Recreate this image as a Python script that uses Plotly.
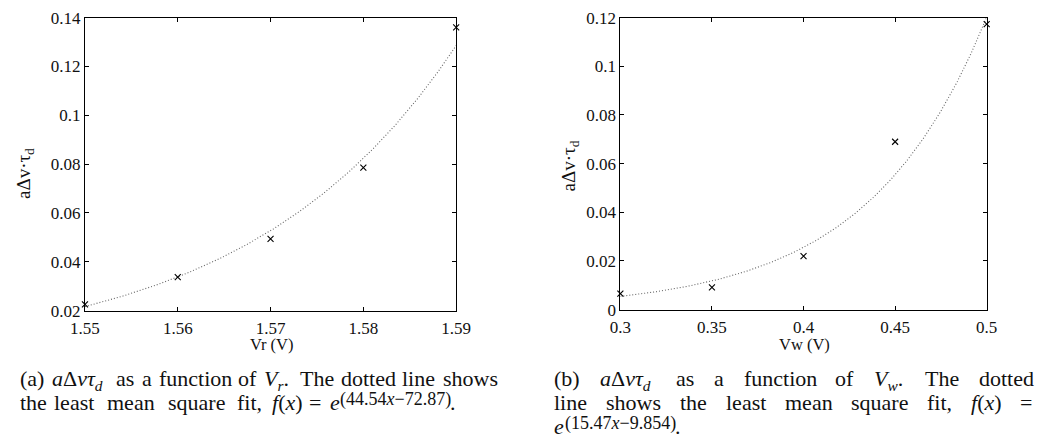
import numpy as np
import plotly.graph_objects as go

# ---- data ----
vr = [1.55, 1.56, 1.57, 1.58, 1.59]
vr_vals = [0.0226, 0.0337, 0.0494, 0.0786, 0.1360]
vw = [0.30, 0.35, 0.40, 0.45, 0.50]
vw_vals = [0.0066, 0.0092, 0.0220, 0.0690, 0.1173]
# least-mean-square fit coefficients (from caption): f(x) = exp(a*x + b)
fit_r = (44.54, -72.87)
fit_w = (15.47, -9.854)
xticks_r = [1.55, 1.56, 1.57, 1.58, 1.59]
yticks_r = [0.02, 0.04, 0.06, 0.08, 0.1, 0.12, 0.14]
xticks_w = [0.3, 0.35, 0.4, 0.45, 0.5]
yticks_w = [0, 0.02, 0.04, 0.06, 0.08, 0.1, 0.12]

W, H = 1060, 447
FONT = "Liberation Serif, Times New Roman, serif"
CAP = 22  # caption font size
SUP = 18  # superscript font size

def px(x):
    return x / W

def py(y):
    return 1 - y / H

xr_fit = np.linspace(vr[0], vr[-1], 200)
yr_fit = np.exp(fit_r[0] * xr_fit + fit_r[1])
xw_fit = np.linspace(vw[0], vw[-1], 200)
yw_fit = np.exp(fit_w[0] * xw_fit + fit_w[1])

fig = go.Figure()
line_style = dict(color="#666666", width=1.1, dash="1px,2px")
mk = dict(symbol="x-thin", size=6, line=dict(color="black", width=1.1), color="black")

fig.add_trace(go.Scatter(x=xr_fit, y=yr_fit, mode="lines", line=line_style, xaxis="x", yaxis="y", showlegend=False))
fig.add_trace(go.Scatter(x=vr, y=vr_vals, mode="markers", marker=mk, xaxis="x", yaxis="y", showlegend=False, cliponaxis=False))
fig.add_trace(go.Scatter(x=xw_fit, y=yw_fit, mode="lines", line=line_style, xaxis="x2", yaxis="y2", showlegend=False))
fig.add_trace(go.Scatter(x=vw, y=vw_vals, mode="markers", marker=mk, xaxis="x2", yaxis="y2", showlegend=False, cliponaxis=False))

ax_common = dict(showline=True, linecolor="black", linewidth=1, mirror="allticks", ticks="inside",
                 ticklen=4, tickcolor="black", showgrid=False, zeroline=False,
                 ticklabeloverflow="allow",
                 tickfont=dict(family=FONT, size=17, color="#111111"))

fig.update_layout(
    width=W, height=H, margin=dict(l=0, r=0, t=0, b=0),
    paper_bgcolor="white", plot_bgcolor="white",
    xaxis=dict(domain=[px(72), px(454)], range=[1.55, 1.59], tickvals=xticks_r,
               ticktext=[f"{v:g}" for v in xticks_r], anchor="y", ticklabelstandoff=2, **ax_common),
    yaxis=dict(domain=[py(315), py(9)], range=[0.02, 0.14], tickvals=yticks_r,
               ticktext=[f"{v:g}" for v in yticks_r], anchor="x", **ax_common),
    xaxis2=dict(domain=[px(623), px(1000)], range=[0.3, 0.5], tickvals=xticks_w,
                ticktext=[f"{v:g}" for v in xticks_w], anchor="y2", ticklabelstandoff=2, **ax_common),
    yaxis2=dict(domain=[py(314), py(9)], range=[0, 0.12], tickvals=yticks_w,
                ticktext=[f"{v:g}" for v in yticks_w], anchor="x2", **ax_common),
)

anns = []
def ann(text, x, y, xanchor="left", size=CAP, textangle=0, yanchor="middle"):
    anns.append(dict(text=text, x=px(x), y=py(y), xref="paper", yref="paper",
                     xanchor=xanchor, yanchor=yanchor, showarrow=False, textangle=textangle,
                     font=dict(family=FONT, size=size, color="#111111")))

# axis titles
ann("Vr (V)", 264, 350, xanchor="center", size=16.5)
ann("Vw (V)", 812, 350, xanchor="center", size=16.5)
ann("aΔv·τ<sub>d</sub>", 24, 172, xanchor="right", size=19, textangle=-90)
ann("aΔv·τ<sub>d</sub>", 586, 164, xanchor="right", size=19, textangle=-90)

# ---- caption layout helpers (Times metrics, per 1000 em) ----
ROM = {"(": 333, ")": 333, "a": 444, "b": 500, "c": 444, "d": 500, "e": 444, "f": 333, "h": 500,
       "i": 278, "l": 278, "m": 778, "n": 500, "o": 500, "q": 500, "r": 333, "s": 389, "t": 278,
       "u": 500, "w": 722, "T": 611, ",": 250, ".": 250, "=": 564, "Δ": 612}
ITA = {"a": 500, "e": 444, "f": 278, "x": 444, "v": 444, "V": 611, "r": 389, "w": 667, "d": 500, "τ": 430}

def wid(parts, size=CAP):
    tot = 0
    for s, it, sc in parts:
        tab = ITA if it else ROM
        tot += sum(tab.get(c, 500) for c in s) * sc
    return tot / 1000 * size

def word(text):
    return (text, wid([(text, 0, 1)]))

AD = ("<i>a</i>Δ<i>vτ<sub>d</sub></i>",
      wid([("a", 1, 1), ("Δ", 0, 1), ("vτ", 1, 1), ("d", 1, 0.7)]) + 6)
def V(sub):
    return ("<i>V<sub>%s</sub></i>." % sub, wid([("V", 1, 1), (sub, 1, 0.7), (".", 0, 1)]) + 3)
FX = ("<i>f</i>(<i>x</i>)", wid([("f", 1, 1), ("(", 0, 1), ("x", 1, 1), (")", 0, 1)]))

C1, C2, C3 = 386, 411, 436   # caption line centres used for anchoring

def place(t, x, c):
    dy = 1.5 if "<sub>" in t else 0
    ann(t, x, c + dy)

def justify(words, x0, x1, c):
    total = sum(w for _, w in words)
    gap = (x1 - x0 - total) / (len(words) - 1)
    x = x0
    for t, w in words:
        place(t, x, c)
        x += w + gap

def expo(x0, c, inner, plain):
    ann("<i>e</i>", x0, c)
    xs = x0 + wid([("e", 1, 1)]) + 1
    anns.append(dict(text="(" + inner + ")", x=px(xs), y=py(c - 3), xref="paper", yref="paper",
                     xanchor="left", yanchor="middle", showarrow=False,
                     font=dict(family=FONT, size=SUP, color="#111111")))
    ws = wid([("(" + plain + ")", 0, 1)], SUP)
    ann(".", xs + ws + 1, c)

# caption (a)
justify([word("(a)"), AD, word("as"), word("a"), word("function"), word("of"), V("r"),
         word("The"), word("dotted"), word("line"), word("shows")], 3, 493, C1)
for t, x in [("the", 3), ("least", 38), ("mean", 93), ("square", 155), ("fit,", 226),
             (FX[0], 262), ("=", 300)]:
    place(t, x, C2)
expo(322, C2, "44.54<i>x</i>−72.87", "44.54x=72.87")

# caption (b)
justify([word("(b)"), AD, word("as"), word("a"), word("function"), word("of"), V("w"),
         word("The"), word("dotted")], 553, 1045, C1)
justify([word("line"), word("shows"), word("the"), word("least"), word("mean"), word("square"),
         word("fit,"), FX, word("=")], 553, 1045, C2)
expo(553, C3, "15.47<i>x</i>−9.854", "15.47x=9.854")

fig.update_layout(annotations=anns)
fig.write_html("out.html")
